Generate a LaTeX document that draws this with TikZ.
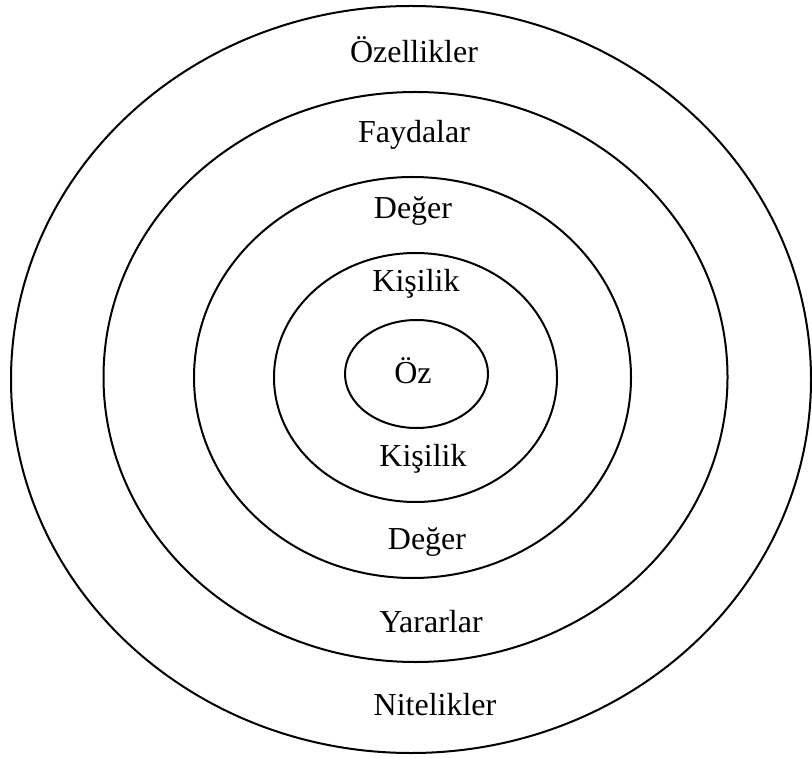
\documentclass[tikz,border=0pt]{standalone}
\usepackage{fontspec}
\setmainfont{Liberation Serif}
\usetikzlibrary{shapes.geometric}

\begin{document}
\begin{tikzpicture}[
    x=0.5pt, y=-0.5pt,
    ring/.style={
        ellipse,
        draw=black,
        line width=1pt,
        inner sep=0pt
    },
    label/.style={
        font=\fontsize{16}{19}\selectfont,
        inner sep=1pt
    }
]

\useasboundingbox (0,0) rectangle (812,758);

% rings, from outside in
\node[ring, minimum width=400pt, minimum height=373.5pt] (outer) at (411,379.5) {};
\node[ring, minimum width=312pt, minimum height=285pt] (benefit) at (415.5,377) {};
\node[ring, minimum width=218.5pt, minimum height=200.5pt] (value) at (412.5,377.5) {};
\node[ring, minimum width=141.5pt, minimum height=124.5pt] (person) at (415.5,377.5) {};
\node[ring, minimum width=71.5pt, minimum height=54pt] (self) at (416.5,374) {};

% labels
\node[label] (ozellik) at (414,50) {Özellikler};
\node[label] (fayda) at (414,135) {Faydalar};
\node[label] (degerTop) at (413,211) {Değer};
\node[label] (kisilikTop) at (416,284) {Kişilik};
\node[label] (oz) at (413,371) {Öz};
\node[label] (kisilikBot) at (423,459) {Kişilik};
\node[label] (degerBot) at (427,542) {Değer};
\node[label] (yarar) at (431,622) {Yararlar};
\node[label] (nitelik) at (435,705) {Nitelikler};

\end{tikzpicture}
\end{document}
